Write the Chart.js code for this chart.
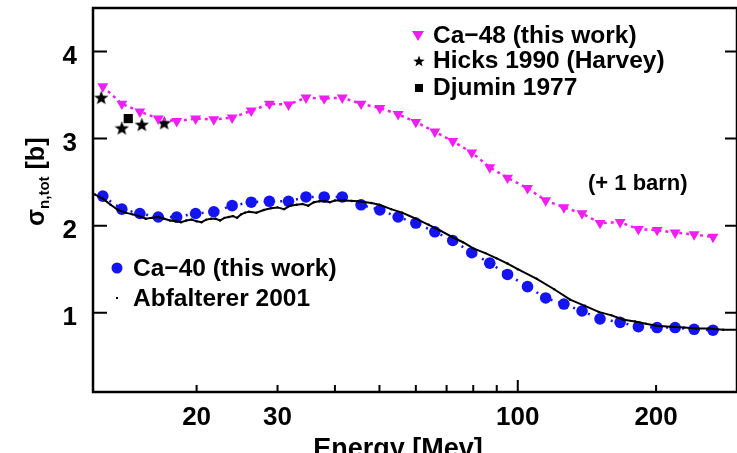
<!DOCTYPE html>
<html lang="en">
<head>
<meta charset="UTF-8">
<title>Total neutron cross section Ca-40 / Ca-48</title>
<script src="https://cdn.jsdelivr.net/npm/chart.js@4.4.0/dist/chart.umd.min.js"></script>
<style>
    html, body { margin: 0; padding: 0; background: #fff; overflow: hidden; }
    #wrapper { position: absolute; left: 0; top: 0; width: 745px; height: 453px; }
</style>
</head>
<body>

<div id="wrapper"><canvas id="xsChart"></canvas></div>

<script>
    // energies (MeV) of the "this work" points, same for Ca-40 and Ca-48
    const energyThisWork = [12.5, 13.75, 15.05, 16.5, 18.1, 19.9, 21.8, 23.9, 26.3, 28.8, 31.7, 34.6,
        37.9, 41.5, 45.6, 50.1, 54.9, 60.0, 66.0, 72.2, 79.4, 86.9, 95.0, 105, 115, 126, 138, 151,
        167, 183, 201, 220, 242, 266];
    // Ca-48, shifted up by 1 barn as in the plot
    const ca48Sigma = [3.60, 3.40, 3.31, 3.23, 3.20, 3.23, 3.22, 3.24, 3.32, 3.40, 3.39, 3.47,
        3.46, 3.47, 3.40, 3.35, 3.28, 3.19, 3.08, 2.97, 2.84, 2.67, 2.55, 2.43, 2.29, 2.21, 2.14, 2.03,
        2.04, 1.96, 1.95, 1.92, 1.90, 1.87];
    const ca40Sigma = [2.34, 2.19, 2.14, 2.10, 2.10, 2.14, 2.16, 2.23, 2.27, 2.28, 2.28, 2.33,
        2.33, 2.33, 2.24, 2.18, 2.10, 2.03, 1.93, 1.83, 1.69, 1.57, 1.44, 1.30, 1.17, 1.10, 1.02, 0.93,
        0.89, 0.84, 0.83, 0.83, 0.81, 0.80];

    // Abfalterer 2001 (Ca-40)
    const abfEnergy = [12, 12.5, 13, 13.5, 14, 14.5, 15, 15.5, 16, 16.5, 17, 17.5, 18, 18.5, 19, 19.5,
        20, 20.5, 21, 21.5, 22, 22.5, 23, 23.5, 24, 24.5, 25, 25.5, 26, 27, 28, 29, 30, 31, 32, 33, 34,
        35, 36, 37, 38, 39, 40, 42, 45, 48, 50, 53, 56, 60, 64, 68, 72, 76, 80, 85, 90, 95, 100, 110,
        120, 130, 140, 150, 160, 170, 180, 190, 200, 215, 230, 245, 260, 280, 300];
    const abfSigma = [2.36, 2.31, 2.24, 2.18, 2.15, 2.13, 2.11, 2.08, 2.09, 2.10, 2.08, 2.06, 2.05, 2.04,
        2.06, 2.07, 2.05, 2.04, 2.07, 2.08, 2.08, 2.06, 2.09, 2.10, 2.11, 2.09, 2.13, 2.15, 2.16, 2.15,
        2.18, 2.20, 2.21, 2.19, 2.23, 2.24, 2.25, 2.23, 2.27, 2.28, 2.28, 2.27, 2.29, 2.29, 2.28, 2.26,
        2.24, 2.19, 2.15, 2.08, 2.01, 1.94, 1.87, 1.81, 1.74, 1.685, 1.625, 1.565, 1.50, 1.39, 1.27, 1.15,
        1.08, 1.01, 0.97, 0.92, 0.90, 0.875, 0.85, 0.84, 0.83, 0.82, 0.82, 0.805, 0.805];

    // Hicks 1990 (Harvey) and Djumin 1977, Ca-48 + 1 barn
    const hicksEnergy = [12.4, 13.75, 15.2, 17.0];
    const hicksSigma = [3.47, 3.12, 3.16, 3.18];
    const djuminEnergy = [14.2];
    const djuminSigma = [3.23];

    const xTickValues = [20, 30, 40, 50, 60, 70, 80, 90, 100, 200, 300];
    const xTickLabels = {20: '20', 30: '30', 100: '100', 200: '200'};
    const yTickValues = [1, 2, 3, 4];

    const MAGENTA = '#f01ef0';
    const BLUE = '#1414f0';
    const FONT = "'Liberation Sans', Arial, Helvetica, sans-serif";

    function toPoints(xs, ys) {
        return xs.map((x, i) => ({x: x, y: ys[i]}));
    }

    function makeStar(size) {
        const c = document.createElement('canvas');
        c.width = size;
        c.height = size;
        const g = c.getContext('2d');
        const R = size / 2, r = R * 0.42;
        g.beginPath();
        for (let i = 0; i < 10; i++) {
            const rad = i % 2 ? r : R;
            const a = -Math.PI / 2 + i * Math.PI / 5;
            g.lineTo(size / 2 + rad * Math.cos(a), size / 2 + 0.5 + rad * Math.sin(a));
        }
        g.closePath();
        g.fillStyle = '#000';
        g.fill();
        return c;
    }

    const starImg = makeStar(15);
    const starLegend = makeStar(12);

    // frame, inward ticks, annotations, axis titles
    const decorations = {
        id: 'decorations',
        afterDraw(chart) {
            const ctx = chart.ctx;
            const a = chart.chartArea;
            const xs = chart.scales.x, ys = chart.scales.y;
            ctx.save();
            ctx.strokeStyle = '#000';
            ctx.lineWidth = 2.5;
            ctx.strokeRect(a.left, a.top, a.right - a.left, a.bottom - a.top);

            ctx.lineWidth = 2;
            ctx.beginPath();
            xTickValues.forEach(v => {
                const px = xs.getPixelForValue(v);
                const len = v === 100 ? 12 : 7;
                ctx.moveTo(px, a.bottom);
                ctx.lineTo(px, a.bottom - len);
            });
            yTickValues.forEach(v => {
                const py = ys.getPixelForValue(v);
                ctx.moveTo(a.left, py);
                ctx.lineTo(a.left + 14, py);
                ctx.moveTo(a.right, py);
                ctx.lineTo(a.right - 12, py);
            });
            ctx.stroke();

            // legend symbols
            ctx.fillStyle = MAGENTA;
            ctx.beginPath();
            ctx.moveTo(412, 31);
            ctx.lineTo(424, 31);
            ctx.lineTo(418, 41);
            ctx.closePath();
            ctx.fill();
            ctx.drawImage(starLegend, 419 - 6, 61 - 6);
            ctx.fillStyle = '#000';
            ctx.fillRect(415, 84, 8, 8);
            ctx.fillStyle = BLUE;
            ctx.beginPath();
            ctx.arc(117, 268, 5.5, 0, Math.PI * 2);
            ctx.fill();
            ctx.fillStyle = '#000';
            ctx.fillRect(116, 297, 2, 2);

            // legend texts
            ctx.fillStyle = '#000';
            ctx.textBaseline = 'middle';
            ctx.textAlign = 'left';
            ctx.font = 'bold 24.5px ' + FONT;
            ctx.fillText('Ca\u221248 (this work)', 433, 36);
            ctx.fillText('Hicks 1990 (Harvey)', 433, 61);
            ctx.fillText('Djumin 1977', 433, 88);
            ctx.fillText('Ca\u221240 (this work)', 133, 269);
            ctx.fillText('Abfalterer 2001', 133, 299);
            ctx.font = 'bold 22px ' + FONT;
            ctx.fillText('(+ 1 barn)', 588, 184);

            // x axis title
            ctx.textAlign = 'center';
            ctx.font = 'bold 27px ' + FONT;
            ctx.fillText('Energy [Mev]', 398, 450);

            // y axis title: sigma_{n,tot} [b]
            ctx.textAlign = 'left';
            ctx.translate(44, 226);
            ctx.rotate(-Math.PI / 2);
            ctx.textBaseline = 'alphabetic';
            ctx.font = 'bold 25px ' + FONT;
            ctx.fillText('\u03c3', 0, 0);
            let w = ctx.measureText('\u03c3').width;
            ctx.font = 'bold 15px ' + FONT;
            ctx.fillText('n,tot', w, 5);
            w += ctx.measureText('n,tot').width;
            ctx.font = 'bold 25px ' + FONT;
            ctx.fillText(' [b]', w, 0);
            ctx.restore();
        }
    };

    const data = {
        datasets: [
            {
                label: 'Abfalterer 2001',
                data: toPoints(abfEnergy, abfSigma),
                showLine: true,
                borderColor: '#000',
                borderWidth: 2,
                backgroundColor: '#000',
                pointRadius: 1.2,
                pointBorderWidth: 0,
                order: 0
            },
            {
                label: 'Ca-40 (this work)',
                data: toPoints(energyThisWork, ca40Sigma),
                showLine: true,
                borderColor: BLUE,
                borderWidth: 2.5,
                borderDash: [2, 6],
                backgroundColor: BLUE,
                pointBackgroundColor: BLUE,
                pointBorderColor: BLUE,
                pointRadius: 5.8,
                pointBorderWidth: 0,
                order: 1
            },
            {
                label: 'Ca-48 (this work)',
                data: toPoints(energyThisWork, ca48Sigma),
                showLine: true,
                borderColor: MAGENTA,
                borderWidth: 2.5,
                borderDash: [3, 4],
                backgroundColor: MAGENTA,
                pointBackgroundColor: MAGENTA,
                pointBorderColor: MAGENTA,
                pointStyle: 'triangle',
                pointRotation: 180,
                pointRadius: 6.3,
                pointBorderWidth: 0,
                order: 2
            },
            {
                label: 'Hicks 1990 (Harvey)',
                data: toPoints(hicksEnergy, hicksSigma),
                pointStyle: starImg,
                pointRadius: 7,
                order: 3
            },
            {
                label: 'Djumin 1977',
                data: toPoints(djuminEnergy, djuminSigma),
                pointStyle: 'rect',
                pointRadius: 6.5,
                backgroundColor: '#000',
                pointBorderWidth: 0,
                order: 3
            }
        ]
    };

    const ctx = document.getElementById('xsChart').getContext('2d');
    const xsChart = new Chart(ctx, {
        type: 'scatter',
        data: data,
        plugins: [decorations],
        options: {
            responsive: true,
            maintainAspectRatio: false,
            animation: false,
            layout: { padding: { top: 7, right: 6, left: 0, bottom: 0 } },
            elements: { line: { tension: 0 } },
            plugins: {
                legend: { display: false },
                tooltip: { enabled: false }
            },
            scales: {
                x: {
                    type: 'logarithmic',
                    min: 11.9,
                    max: 300,
                    grid: { display: false, drawTicks: false },
                    border: { display: false },
                    afterBuildTicks: (s) => { s.ticks = xTickValues.map(v => ({value: v})); },
                    afterFit: (s) => { s.height = 61; s.paddingLeft = 0; s.paddingRight = 0; },
                    ticks: {
                        autoSkip: false,
                        maxRotation: 0,
                        padding: 10,
                        color: '#000',
                        font: { family: FONT, size: 26, weight: 'bold' },
                        callback: (v) => xTickLabels[v] || ''
                    }
                },
                y: {
                    type: 'linear',
                    min: 0.09,
                    max: 4.5,
                    grid: { display: false, drawTicks: false },
                    border: { display: false },
                    afterBuildTicks: (s) => { s.ticks = yTickValues.map(v => ({value: v})); },
                    afterFit: (s) => { s.width = 93; s.paddingTop = 0; s.paddingBottom = 0; },
                    ticks: {
                        padding: 16,
                        labelOffset: 5,
                        color: '#000',
                        font: { family: FONT, size: 26, weight: 'bold' }
                    }
                }
            }
        }
    });
</script>

</body>
</html>
